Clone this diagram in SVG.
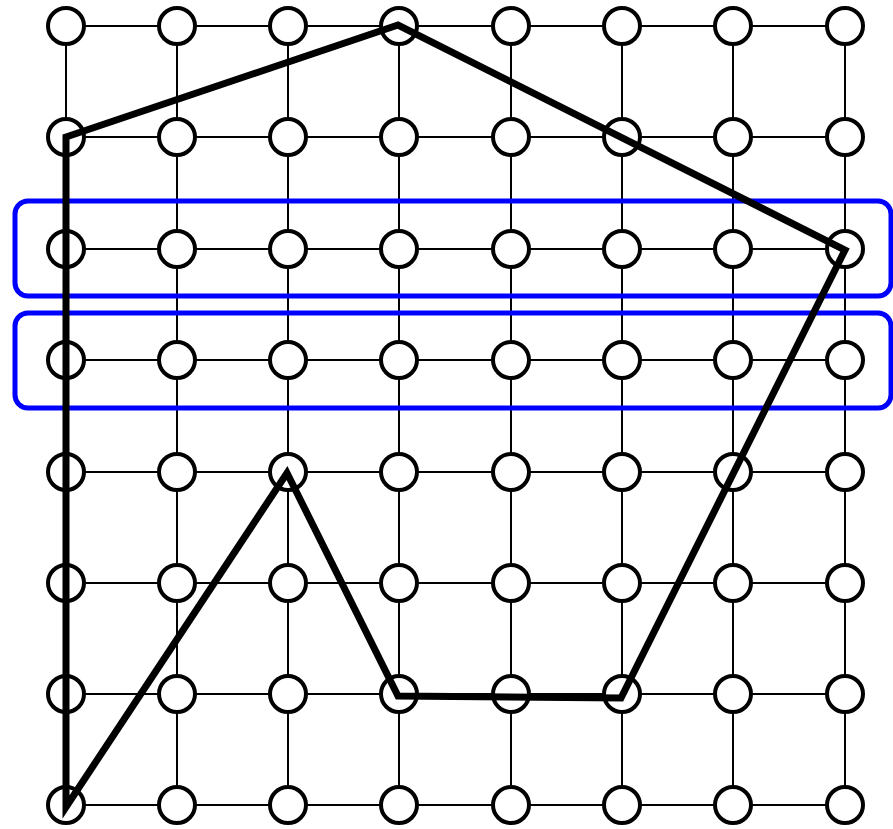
<svg xmlns="http://www.w3.org/2000/svg" width="893" height="829" viewBox="0 0 893 829">
<style>
.g{stroke:#000;stroke-width:2;fill:none}
.n{fill:#fff;stroke:#000;stroke-width:4}
.p{fill:none;stroke:#000;stroke-width:7;stroke-linejoin:miter;stroke-miterlimit:10}
.b{fill:none;stroke:#0000ff;stroke-width:5}
</style>
<rect width="893" height="829" fill="#fff"/>
<g id="connectors" class="g">
<path d="M66,26H845M66,137H845M66,249H845M66,360H845M66,472H845M66,583H845M66,694H845M66,805H845"/>
<path d="M66,26V805M177,26V805M288,26V805M399,26V805M511,26V805M622,26V805M733,26V805M845,26V805"/>
</g>
<g id="nodes">
<g id="r0"><circle class="n" cx="66" cy="26" r="18"/><circle class="n" cx="177" cy="26" r="18"/><circle class="n" cx="288" cy="26" r="18"/><circle class="n" cx="399" cy="26" r="18"/><circle class="n" cx="511" cy="26" r="18"/><circle class="n" cx="622" cy="26" r="18"/><circle class="n" cx="733" cy="26" r="18"/><circle class="n" cx="845" cy="26" r="18"/></g>
<g id="r1"><circle class="n" cx="66" cy="137" r="18"/><circle class="n" cx="177" cy="137" r="18"/><circle class="n" cx="288" cy="137" r="18"/><circle class="n" cx="399" cy="137" r="18"/><circle class="n" cx="511" cy="137" r="18"/><circle class="n" cx="622" cy="137" r="18"/><circle class="n" cx="733" cy="137" r="18"/><circle class="n" cx="845" cy="137" r="18"/></g>
<g id="r2"><circle class="n" cx="66" cy="249" r="18"/><circle class="n" cx="177" cy="249" r="18"/><circle class="n" cx="288" cy="249" r="18"/><circle class="n" cx="399" cy="249" r="18"/><circle class="n" cx="511" cy="249" r="18"/><circle class="n" cx="622" cy="249" r="18"/><circle class="n" cx="733" cy="249" r="18"/><circle class="n" cx="845" cy="249" r="18"/></g>
<g id="r3"><circle class="n" cx="66" cy="360" r="18"/><circle class="n" cx="177" cy="360" r="18"/><circle class="n" cx="288" cy="360" r="18"/><circle class="n" cx="399" cy="360" r="18"/><circle class="n" cx="511" cy="360" r="18"/><circle class="n" cx="622" cy="360" r="18"/><circle class="n" cx="733" cy="360" r="18"/><circle class="n" cx="845" cy="360" r="18"/></g>
<g id="r4"><circle class="n" cx="66" cy="472" r="18"/><circle class="n" cx="177" cy="472" r="18"/><circle class="n" cx="288" cy="472" r="18"/><circle class="n" cx="399" cy="472" r="18"/><circle class="n" cx="511" cy="472" r="18"/><circle class="n" cx="622" cy="472" r="18"/><circle class="n" cx="733" cy="472" r="18"/><circle class="n" cx="845" cy="472" r="18"/></g>
<g id="r5"><circle class="n" cx="66" cy="583" r="18"/><circle class="n" cx="177" cy="583" r="18"/><circle class="n" cx="288" cy="583" r="18"/><circle class="n" cx="399" cy="583" r="18"/><circle class="n" cx="511" cy="583" r="18"/><circle class="n" cx="622" cy="583" r="18"/><circle class="n" cx="733" cy="583" r="18"/><circle class="n" cx="845" cy="583" r="18"/></g>
<g id="r6"><circle class="n" cx="66" cy="694" r="18"/><circle class="n" cx="177" cy="694" r="18"/><circle class="n" cx="288" cy="694" r="18"/><circle class="n" cx="399" cy="694" r="18"/><circle class="n" cx="511" cy="694" r="18"/><circle class="n" cx="622" cy="694" r="18"/><circle class="n" cx="733" cy="694" r="18"/><circle class="n" cx="845" cy="694" r="18"/></g>
<g id="r7"><circle class="n" cx="66" cy="805" r="18"/><circle class="n" cx="177" cy="805" r="18"/><circle class="n" cx="288" cy="805" r="18"/><circle class="n" cx="399" cy="805" r="18"/><circle class="n" cx="511" cy="805" r="18"/><circle class="n" cx="622" cy="805" r="18"/><circle class="n" cx="733" cy="805" r="18"/><circle class="n" cx="845" cy="805" r="18"/></g>
</g>
<g id="groups">
<rect class="b" x="15" y="201" width="876" height="95" rx="13"/>
<rect class="b" x="15" y="313" width="876" height="95" rx="13"/>
</g>
<path id="polygon" class="p" d="M66,137L398,25L845,250L621,698L398,696L287,473L66,807Z"/>
</svg>
